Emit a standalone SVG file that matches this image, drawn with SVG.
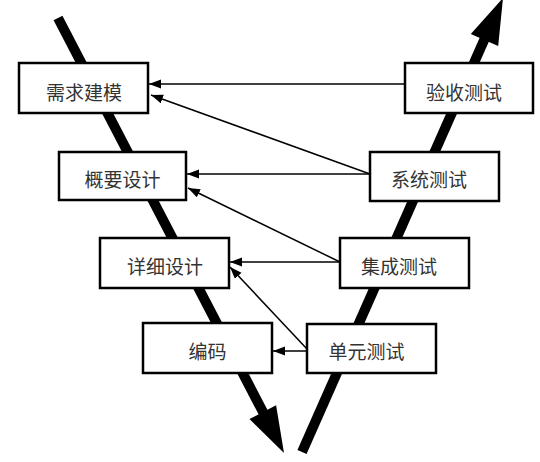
<svg xmlns="http://www.w3.org/2000/svg" width="540" height="462" viewBox="0 0 540 462">
<style>
.box rect{fill:#fff;stroke:#000;stroke-width:2.5}
.box text{font-family:"Noto Sans CJK SC","Noto Sans",sans-serif;font-size:19px;fill:#333;text-anchor:middle;dominant-baseline:central}
.v{stroke:#000;stroke-width:10;fill:none}
.c line{stroke:#000;stroke-width:1.5;marker-end:url(#ah)}
</style>
<defs>
<marker id="ah" markerUnits="userSpaceOnUse" markerWidth="13" markerHeight="10" refX="12" refY="4.5" orient="auto">
<path d="M0,0 L12,4.5 L0,9 z" fill="#000"/>
</marker>
</defs>
<rect width="540" height="462" fill="#fff"/>
<g id="v-shape">
<line class="v" x1="58" y1="18" x2="264" y2="414"/>
<polygon points="276.1,405.3 249.5,419.1 284,453" fill="#000"/>
<line class="v" x1="302" y1="452" x2="485" y2="38"/>
<polygon points="498.2,46.1 470.8,34.1 503,-2" fill="#000"/>
</g>
<g id="connectors" class="c">
<line x1="405" y1="84" x2="149" y2="84"/>
<line x1="370" y1="174" x2="151" y2="95"/>
<line x1="370" y1="174" x2="187" y2="174"/>
<line x1="340" y1="262" x2="188" y2="188"/>
<line x1="340" y1="262" x2="230" y2="262"/>
<line x1="307" y1="349" x2="230" y2="267"/>
<line x1="307" y1="351" x2="273" y2="351"/>
</g>
<g id="n1" class="box"><rect x="19" y="63" width="129" height="50"/><text x="84" y="91">需求建模</text></g>
<g id="n2" class="box"><rect x="59" y="152" width="127" height="48"/><text x="122.5" y="178">概要设计</text></g>
<g id="n3" class="box"><rect x="100" y="238" width="129" height="50"/><text x="165" y="265">详细设计</text></g>
<g id="n4" class="box"><rect x="143" y="323" width="129" height="50"/><text x="207.5" y="350">编码</text></g>
<g id="n5" class="box"><rect x="405" y="63" width="128" height="50"/><text x="464" y="91">验收测试</text></g>
<g id="n6" class="box"><rect x="370" y="152" width="129" height="49"/><text x="429" y="178">系统测试</text></g>
<g id="n7" class="box"><rect x="340" y="238" width="129" height="50"/><text x="399" y="265">集成测试</text></g>
<g id="n8" class="box"><rect x="307" y="324" width="129" height="49"/><text x="366.5" y="350">单元测试</text></g>
</svg>
